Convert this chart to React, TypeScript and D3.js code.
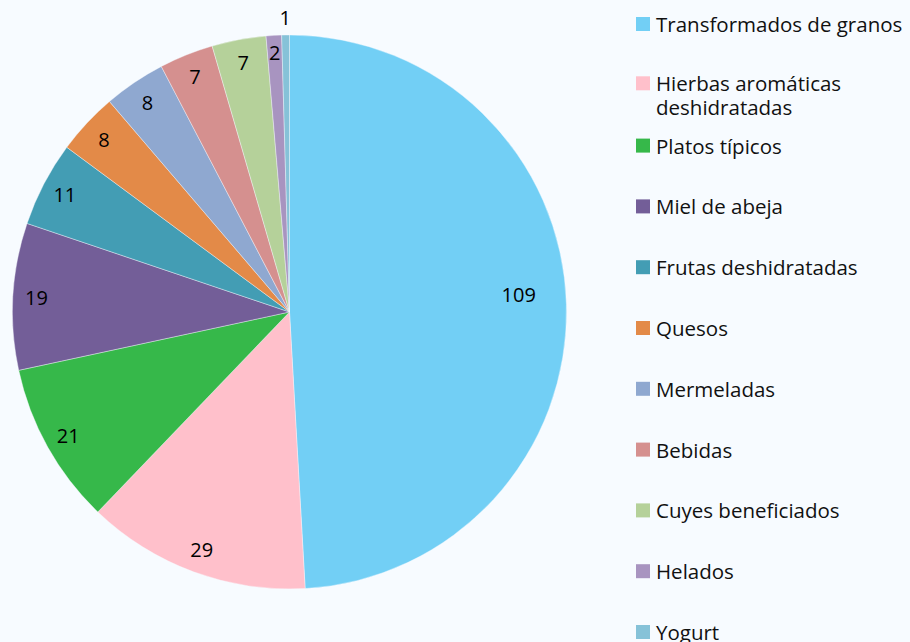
import React from "react";
import * as d3 from "d3";

const categories = [
  "Transformados de granos",
  "Hierbas aromáticas deshidratadas",
  "Platos típicos",
  "Miel de abeja",
  "Frutas deshidratadas",
  "Quesos",
  "Mermeladas",
  "Bebidas",
  "Cuyes beneficiados",
  "Helados",
  "Yogurt",
];
const values = [109, 29, 21, 19, 11, 8, 8, 7, 7, 2, 1];
const colors = [
  "#72CFF5",
  "#FFC0CB",
  "#36B84A",
  "#735E98",
  "#439DB4",
  "#E38A48",
  "#8FA8D0",
  "#D5908F",
  "#B5D19A",
  "#A894C0",
  "#86C2D8",
];
const legendLines = [
  ["Transformados de granos"],
  ["Hierbas aromáticas", "deshidratadas"],
  ["Platos típicos"],
  ["Miel de abeja"],
  ["Frutas deshidratadas"],
  ["Quesos"],
  ["Mermeladas"],
  ["Bebidas"],
  ["Cuyes beneficiados"],
  ["Helados"],
  ["Yogurt"],
];

const W = 910;
const H = 642;
const cx = 289.5;
const cy = 312;
const R = 277;
const FONT = "'Open Sans', sans-serif";

export default function App() {
  const pie = d3.pie<number>().sort(null).value((d) => d)(values);
  const arc = d3.arc<d3.PieArcDatum<number>>().innerRadius(0).outerRadius(R);
  const total = d3.sum(values);
  const legendY = d3.scaleLinear().domain([0, categories.length - 1]).range([24, 632]);

  return (
    <svg
      width={W}
      height={H}
      style={{ position: "absolute", left: 0, top: 0, background: "#F7FBFF" }}
    >
      <rect x={0} y={0} width={W} height={H} fill="#F7FBFF" />
      <g transform={`translate(${cx},${cy})`}>
        {pie.map((p, i) => (
          <path key={i} d={arc(p) || ""} fill={colors[i]} stroke="#F7FBFF" strokeWidth={0.4} />
        ))}
        {pie.map((p, i) => {
          const share = p.value / total;
          const k = share > 0.3 ? 0.83 : share < 0.006 ? 1.065 : share < 0.01 ? 0.94 : 0.915;
          const mid = (p.startAngle + p.endAngle) / 2 - (share > 0.3 ? 0.05 : 0);
          const x = Math.sin(mid) * R * k;
          const y = -Math.cos(mid) * R * k;
          return (
            <text
              key={i}
              x={x}
              y={y}
              textAnchor="middle"
              dominantBaseline="central"
              fontFamily={FONT}
              fontSize={20}
              fill="#000"
            >
              {p.value}
            </text>
          );
        })}
      </g>
      <g>
        {categories.map((c, i) => {
          const y0 = legendY(i);
          const lines = legendLines[i];
          const off = lines.length > 1 ? -1.5 : 0;
          return (
            <g key={c}>
              <rect x={636} y={y0 + off - 7} width={14} height={14} fill={colors[i]} />
              {lines.map((l, j) => (
                <text
                  key={j}
                  x={656}
                  y={y0 + off + j * 24}
                  dominantBaseline="central"
                  fontFamily={FONT}
                  fontSize={20.5}
                  fill="#111"
                >
                  {l}
                </text>
              ))}
            </g>
          );
        })}
      </g>
    </svg>
  );
}
